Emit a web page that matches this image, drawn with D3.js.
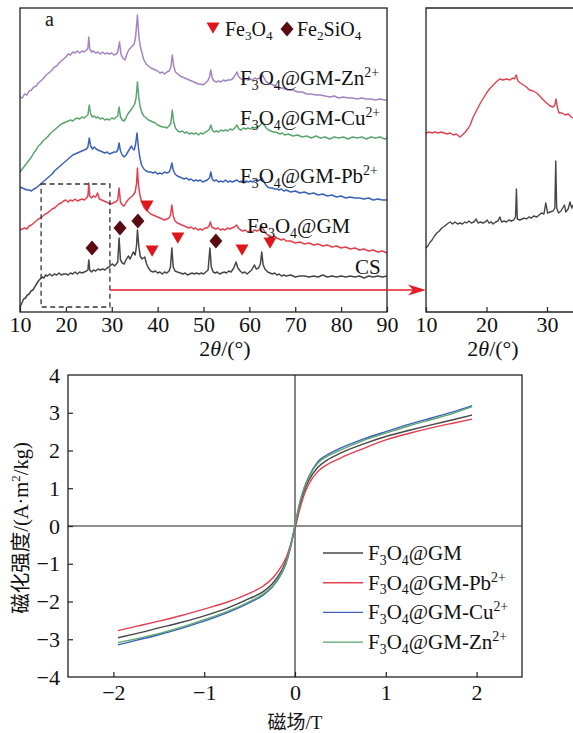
<!DOCTYPE html>
<html><head><meta charset="utf-8">
<script src="https://cdn.jsdelivr.net/npm/d3@7"></script>
<style>
body{margin:0;background:#fff}
svg{display:block}
text{font-family:"Liberation Serif","Times New Roman",serif;fill:#111}
</style>
</head><body>
<svg id="chart" width="573" height="733"></svg>
<script>
// ---------------- DATA ----------------
const xrdTicks = [10,20,30,40,50,60,70,80,90];
const insetTicks = [10,20,30];
// XRD traces: [2theta, intensity (a.u., stacked offsets)]
const xrdCS = [[10,5],[10.4,9],[10.8,13],[11.2,14],[11.6,17],[12,18],[12.4,21],[12.8,22],[13.2,25],[13.6,28],[14,31],[14.4,33],[14.8,35],[15.2,34],[15.6,37],[16,36],[16.5,38],[17,36],[17.5,38],[18,37],[18.5,39],[19,37],[19.5,38],[20,38],[20.5,37],[21,39],[21.5,38],[22,40],[22.5,38],[23,40],[23.5,39],[24,40],[24.5,41],[24.8,42],[25,52],[25.2,42],[25.6,40],[26,42],[26.5,41],[27,43],[27.5,42],[28,43],[28.5,42],[29,44],[29.4,45],[29.8,47],[30.2,48],[30.6,46],[31,48],[31.3,50],[31.6,74],[31.9,52],[32.3,49],[32.7,48],[33.1,52],[33.6,56],[34,53],[34.4,57],[34.7,60],[35.1,57],[35.4,66],[35.6,82],[35.9,66],[36.2,56],[36.6,53],[37.2,55],[37.6,48],[38,44],[38.5,41],[39,40],[39.5,41],[40,39],[40.5,40],[41,38],[41.5,40],[42,39],[42.5,41],[42.8,45],[43.1,64],[43.4,45],[43.8,41],[44.3,40],[45,39],[45.5,38],[46,39],[46.5,37],[47,38],[47.5,39],[48,38],[48.5,39],[49,38],[49.5,39],[50,38],[50.5,40],[51,42],[51.4,64],[51.7,45],[52.1,40],[52.6,39],[53,40],[53.5,38],[54,39],[54.5,40],[55,39],[55.5,41],[56,40],[56.6,44],[57.1,50],[57.5,44],[58,41],[58.5,39],[59,40],[59.5,38],[60,40],[60.5,42],[61.1,47],[61.5,43],[62,44],[62.4,48],[62.7,60],[63,47],[63.4,43],[64,40],[64.5,39],[65,38],[65.5,39],[66,37],[66.5,38],[67,36],[67.5,37],[68,36],[69,37],[70,35],[71,36],[72,36],[73,35],[74,36],[75,35],[76,37],[77,35],[78,36],[79,35],[80,36],[81,35],[82,36],[83,35],[84,36],[85,34],[86,36],[87,35],[88,36],[89,35],[90,36]];
const xrdGM = [[10,82],[10.5,83],[11,84],[11.5,83],[12,86],[12.5,87],[13,89],[13.5,91],[14,93],[14.5,94],[15,96],[15.5,98],[16,99],[16.5,101],[17,103],[17.5,104],[18,106],[18.5,108],[19,109],[19.5,111],[20,112],[20.5,110],[21,112],[21.5,111],[22,113],[22.5,111],[23,112],[23.5,113],[24,112],[24.5,114],[24.8,116],[25,129],[25.2,116],[25.6,114],[26,116],[26.5,115],[26.9,119],[27.3,113],[27.8,112],[28.3,111],[28.8,110],[29.3,109],[29.8,108],[30.3,109],[30.8,110],[31.3,112],[31.6,124],[31.9,110],[32.3,107],[32.7,106],[33.2,110],[33.7,113],[34.2,115],[34.7,117],[35.1,120],[35.4,128],[35.6,144],[35.8,128],[36.1,118],[36.5,110],[37,105],[37.5,102],[38,100],[38.5,98],[39,97],[39.5,96],[40,95],[40.5,94],[41,93],[41.5,92],[42,93],[42.5,94],[42.8,97],[43.1,107],[43.4,96],[43.8,91],[44.3,89],[44.8,88],[45.3,87],[45.8,86],[46.3,85],[46.8,84],[47.3,85],[47.8,83],[48.3,84],[48.8,82],[49.3,83],[49.8,82],[50.3,84],[50.8,84],[51.2,86],[51.5,90],[51.8,85],[52.2,84],[52.7,83],[53.2,84],[53.7,82],[54.2,83],[54.7,82],[55.2,84],[55.7,83],[56.2,84],[56.7,85],[57.2,87],[57.6,84],[58.1,82],[58.6,81],[59.1,82],[59.6,80],[60.1,81],[60.6,80],[61.1,82],[61.6,81],[62.1,82],[62.5,84],[62.7,86],[63,83],[63.5,79],[64,77],[64.5,76],[65,75],[65.5,76],[66,74],[66.5,73],[67,72],[67.5,73],[68,71],[69,71],[70,69],[71,70],[72,68],[73,69],[74,67],[75,68],[76,66],[77,67],[78,65],[79,66],[80,64],[81,65],[82,63],[83,64],[84,62],[85,63],[86,61],[87,62],[88,60],[89,61],[90,59]];
const xrdPb = [[10,125],[10.5,124],[11,123],[11.5,122],[12,122],[12.5,121],[13,123],[13.5,124],[14,126],[14.5,128],[15,130],[15.5,132],[16,134],[16.5,136],[17,138],[17.5,141],[18,143],[18.5,145],[19,147],[19.5,149],[20,151],[20.5,153],[21,155],[21.5,157],[22,158],[22.5,159],[23,160],[23.5,161],[24,162],[24.5,163],[24.8,165],[25.1,174],[25.4,166],[25.8,163],[26.2,165],[26.6,163],[27,162],[27.5,161],[28,160],[28.5,159],[29,160],[29.5,158],[30,159],[30.5,160],[31,160],[31.3,162],[31.6,169],[31.9,161],[32.3,157],[32.7,155],[33.1,157],[33.5,160],[33.9,163],[34.3,166],[34.6,163],[34.9,162],[35.2,168],[35.5,179],[35.8,165],[36.1,155],[36.5,147],[37,143],[37.5,141],[38,140],[38.5,140],[39,139],[39.5,140],[40,138],[40.5,139],[41,138],[41.5,140],[42,139],[42.5,140],[42.8,143],[43.1,149],[43.4,142],[43.8,138],[44.3,136],[44.8,135],[45.3,134],[45.8,133],[46.3,134],[46.8,132],[47.3,133],[47.8,131],[48.3,132],[48.8,131],[49.3,132],[49.8,130],[50.3,131],[50.8,132],[51.3,134],[51.6,140],[51.9,133],[52.3,131],[52.8,132],[53.3,130],[53.8,131],[54.3,130],[54.8,132],[55.3,130],[55.8,131],[56.3,130],[56.8,131],[57.3,132],[57.8,130],[58.3,131],[58.8,129],[59.3,131],[59.8,130],[60.3,131],[60.8,130],[61.3,132],[61.8,131],[62.3,132],[62.8,134],[63.2,130],[63.6,127],[64,125],[64.5,124],[65,124],[65.5,123],[66,123],[66.5,122],[67,123],[67.5,121],[68,122],[69,120],[70,121],[71,119],[72,120],[73,118],[74,119],[75,117],[76,118],[77,116],[78,117],[79,115],[80,116],[81,114],[82,115],[83,114],[84,114],[85,113],[86,114],[87,112],[88,113],[89,112],[90,112]];
const xrdCu = [[10,140],[10.5,143],[11,146],[11.5,149],[12,152],[12.5,155],[13,159],[13.5,162],[14,166],[14.5,168],[15,171],[15.5,173],[16,175],[16.5,178],[17,180],[17.5,182],[18,184],[18.5,186],[19,188],[19.5,189],[20,190],[20.5,191],[21,192],[21.5,191],[22,193],[22.5,194],[23,193],[23.5,195],[24,194],[24.5,196],[24.8,197],[25.1,207],[25.4,198],[25.8,195],[26.2,196],[26.6,194],[27,195],[27.5,193],[28,194],[28.5,192],[29,193],[29.5,192],[30,194],[30.5,193],[31,195],[31.3,196],[31.6,205],[31.9,195],[32.3,192],[32.7,191],[33.1,194],[33.5,198],[34,201],[34.5,204],[35,208],[35.3,214],[35.6,230],[35.9,214],[36.2,205],[36.6,199],[37,196],[37.5,194],[38,192],[38.5,191],[39,190],[39.5,189],[40,187],[40.5,186],[41,185],[41.5,185],[42,184],[42.5,186],[42.9,189],[43.2,202],[43.5,190],[43.9,184],[44.4,181],[44.9,180],[45.4,181],[45.9,179],[46.4,180],[46.9,178],[47.4,179],[47.9,178],[48.4,179],[48.9,177],[49.4,179],[49.9,178],[50.4,180],[50.9,181],[51.3,183],[51.6,187],[51.9,182],[52.3,180],[52.8,181],[53.3,180],[53.8,182],[54.3,181],[54.8,182],[55.3,181],[55.8,183],[56.3,182],[56.8,184],[57.3,187],[57.7,183],[58.2,182],[58.7,184],[59.2,183],[59.7,184],[60.2,183],[60.7,185],[61.2,184],[61.7,185],[62.2,186],[62.6,188],[62.9,190],[63.2,187],[63.7,184],[64.2,182],[64.7,181],[65.2,180],[65.7,180],[66.2,179],[66.7,178],[67.2,179],[67.7,177],[68.5,178],[69.5,176],[70.5,177],[71.5,175],[72.5,176],[73.5,174],[74.5,176],[75.5,174],[76.5,175],[77.5,173],[78.5,175],[79.5,174],[80.5,175],[81.5,173],[82.5,175],[83.5,174],[84.5,175],[85.5,173],[86.5,175],[87.5,174],[88.5,175],[89.5,173],[90,174]];
const xrdZn = [[10,215],[10.5,214],[11,218],[11.5,217],[12,221],[12.5,222],[13,225],[13.5,226],[14,229],[14.5,231],[15,233],[15.5,236],[16,238],[16.5,240],[17,242],[17.5,245],[18,246],[18.5,249],[19,251],[19.5,253],[20,255],[20.5,258],[21,257],[21.5,260],[22,259],[22.5,261],[23,259],[23.5,261],[24,260],[24.5,262],[24.8,264],[25,275],[25.2,263],[25.6,260],[26,261],[26.5,259],[27,260],[27.5,258],[28,260],[28.5,258],[29,259],[29.5,258],[30,259],[30.5,257],[31,258],[31.3,260],[31.7,270],[32,258],[32.4,254],[32.9,252],[33.3,258],[33.7,262],[34.1,264],[34.5,266],[34.9,268],[35.2,275],[35.6,297],[35.9,276],[36.2,266],[36.6,259],[37,252],[37.5,248],[38,246],[38.5,244],[39,243],[39.5,242],[40,241],[40.5,239],[41,240],[41.5,238],[42,240],[42.5,241],[42.9,245],[43.2,257],[43.5,246],[43.9,240],[44.4,238],[44.9,236],[45.4,235],[45.9,234],[46.4,233],[46.9,232],[47.4,231],[47.9,230],[48.4,229],[48.9,228],[49.4,228],[49.9,227],[50.4,229],[50.9,231],[51.3,235],[51.6,242],[51.9,234],[52.3,231],[52.8,230],[53.3,231],[53.8,230],[54.3,232],[54.8,231],[55.3,232],[55.8,232],[56.3,233],[56.8,236],[57.3,240],[57.7,235],[58.2,233],[58.7,232],[59.2,233],[59.7,232],[60.2,233],[60.7,232],[61.2,234],[61.7,233],[62.2,234],[62.6,235],[62.9,237],[63.2,234],[63.7,230],[64.2,229],[64.7,228],[65.2,227],[65.7,226],[66.2,225],[66.7,224],[67.2,224],[67.7,223],[68.5,222],[69.5,222],[70.5,220],[71.5,220],[72.5,218],[73.5,218],[74.5,217],[75.5,217],[76.5,216],[77.5,215],[78.5,216],[79.5,214],[80.5,215],[81.5,214],[82.5,214],[83.5,213],[84.5,214],[85.5,213],[86.5,213],[87.5,212],[88.5,213],[89.5,212],[90,212]];
// inset (10-34°) detail traces
const insetGM = [[10,179],[10.5,180],[11,179],[11.5,180],[12,179],[12.5,180],[13,179],[13.5,178],[14,179],[14.5,177],[15,178],[15.6,175],[16,177],[16.5,180],[17,184],[17.3,187],[17.8,195],[18.4,202],[19,209],[19.5,214],[20,219],[20.5,223],[21.1,227],[21.6,230],[22.2,233],[22.7,232],[23.3,233],[23.9,232],[24.3,234],[24.6,233],[24.9,237],[25.2,231],[25.6,229],[26.1,227],[26.6,225],[27.1,222],[27.7,221],[28.3,219],[28.8,216],[29.4,212],[29.95,209],[30.5,206],[31,205],[31.3,207],[31.5,213],[31.7,205],[32,199],[32.5,199],[33,197],[33.5,198],[34,195],[34.3,194]];
const insetCS = [[10,64],[10.3,66],[10.7,70],[11,72],[11.4,76],[11.8,79],[12.2,81],[12.6,84],[12.9,85],[13.3,87],[13.7,89],[14,90],[14.4,88],[14.8,90],[15.2,88],[15.6,89],[16,88],[16.4,90],[16.7,89],[17.1,91],[17.5,89],[17.9,90],[18.3,93],[18.6,89],[19,90],[19.4,89],[19.8,90],[20.1,92],[20.4,89],[20.8,90],[21.1,88],[21.5,90],[21.9,91],[22.2,95],[22.5,90],[22.9,91],[23.3,90],[23.7,92],[24.1,91],[24.5,92],[24.8,95],[24.95,123],[25.1,93],[25.5,92],[25.9,93],[26.3,94],[26.6,93],[27,95],[27.4,94],[27.8,96],[28.3,95],[28.7,97],[29.1,99],[29.5,98],[29.8,109],[30.1,99],[30.5,100],[31,101],[31.3,104],[31.45,151],[31.6,104],[31.9,99],[32.3,101],[32.6,104],[32.9,107],[33.1,100],[33.5,103],[33.8,110],[34.1,104],[34.3,107]];
// phase markers [2theta, intensity]
const markFe3O4 = [[37.7,106],[38.8,61],[44.4,74],[58.4,62],[64.5,69]];
const markFe2SiO4 = [[25.7,64],[31.8,84],[35.7,91],[52.7,71]];
// zoom box range
const boxRange = [14.6, 29.6, 5, 128];

// Magnetization
const fieldH = [-1.95,-1.75,-1.5,-1.25,-1,-0.75,-0.5,-0.35,-0.25,-0.15,-0.1,-0.05,0,0.05,0.1,0.15,0.25,0.35,0.5,0.75,1,1.25,1.5,1.75,1.95];
const magGM = [-2.96,-2.85,-2.70,-2.55,-2.38,-2.18,-1.92,-1.74,-1.53,-1.19,-0.93,-0.52,0,0.52,0.92,1.2,1.55,1.74,1.93,2.17,2.37,2.53,2.68,2.82,2.94];
const magPb = [-2.77,-2.66,-2.52,-2.37,-2.2,-2.02,-1.78,-1.59,-1.39,-1.07,-0.85,-0.5,-0.08,0.42,0.82,1.1,1.44,1.62,1.80,2.05,2.28,2.45,2.60,2.73,2.83];
const magCu = [-3.15,-3.03,-2.88,-2.71,-2.52,-2.30,-2.03,-1.83,-1.62,-1.27,-1.0,-0.58,0,0.58,1.0,1.3,1.70,1.88,2.06,2.30,2.50,2.69,2.86,3.03,3.19];
const magZn = [-3.09,-2.99,-2.85,-2.68,-2.48,-2.27,-2.0,-1.8,-1.6,-1.25,-0.98,-0.56,0.03,0.6,1.0,1.28,1.66,1.84,2.01,2.26,2.46,2.65,2.82,2.99,3.16];
const magTicksX = [-2,-1,0,1,2];
const magTicksY = [-4,-3,-2,-1,0,1,2,3,4];

// ---------------- DRAW ----------------
const C = {black:'#474747', red:'#e2404f', blue:'#3b62b8', green:'#5ba56f', purple:'#a484c3', tri:'#e0161c', dia:'#5a0a10', frame:'#222'};
const svg = d3.select('#chart');
const intFmt = d3.format('d');

function rich(g, x, y, parts, size, anchor){
  const t = g.append('text').attr('x',x).attr('y',y).attr('font-size',size).attr('text-anchor',anchor||'start');
  let shift = 0;
  parts.forEach(([s,k])=>{
    const target = k==='sub' ? size*0.22 : k==='sup' ? -size*0.38 : 0;
    const ts = t.append('tspan').attr('dy', target-shift).attr('font-size', (k==='sub'||k==='sup') ? size*0.66 : size).text(s);
    if (k==='it') ts.attr('font-style','italic');
    shift = target;
  });
  return t;
}

// ---- XRD main panel
const xT = d3.scaleLinear().domain([10,90]).range([20,387]);
const yT = d3.scaleLinear().domain([0,304]).range([312,8]);
const gT = svg.append('g');
const line = d3.line().x(d=>xT(d[0])).y(d=>yT(d[1]));
[[xrdCS,C.black],[xrdGM,C.red],[xrdPb,C.blue],[xrdCu,C.green],[xrdZn,C.purple]].forEach(([d,c])=>{
  gT.append('path').datum(d).attr('d',line).attr('fill','none').attr('stroke',c).attr('stroke-width',1.5).attr('stroke-linejoin','round');
});
// dashed zoom box
gT.append('rect').attr('x',xT(boxRange[0])).attr('y',yT(boxRange[3]))
  .attr('width',xT(boxRange[1])-xT(boxRange[0])).attr('height',yT(boxRange[2])-yT(boxRange[3]))
  .attr('fill','none').attr('stroke','#333').attr('stroke-width',1.3).attr('stroke-dasharray','5,3.5');
// markers
const triPath = s => `M${-s/2},${-s*0.42}L${s/2},${-s*0.42}L0,${s*0.45}Z`;
const diaPath = (w,h) => `M0,${-h/2}L${w/2},0L0,${h/2}L${-w/2},0Z`;
markFe3O4.forEach(d=>gT.append('path').attr('d',triPath(13)).attr('fill',C.tri).attr('transform',`translate(${xT(d[0])},${yT(d[1])})`));
markFe2SiO4.forEach(d=>gT.append('path').attr('d',diaPath(13,15)).attr('fill',C.dia).attr('transform',`translate(${xT(d[0])},${yT(d[1])})`));
// frame
gT.append('rect').attr('x',20).attr('y',8).attr('width',367).attr('height',304).attr('fill','none').attr('stroke',C.frame).attr('stroke-width',1.3);
const axT = gT.append('g').attr('transform','translate(0,312)').call(d3.axisBottom(xT).tickValues(xrdTicks).tickFormat(intFmt).tickSize(-5).tickPadding(4));
axT.select('.domain').remove();
axT.selectAll('line').attr('stroke',C.frame).attr('stroke-width',1.2);
axT.selectAll('text').attr('font-size',22).attr('font-family','"Liberation Serif",serif').attr('fill','#111');
rich(gT, 225, 356, [['2','n'],['θ','it'],['/(°)','n']], 22, 'middle');
// labels
gT.append('text').attr('x',45).attr('y',26).attr('font-size',20).text('a');
gT.append('path').attr('d',triPath(13)).attr('fill',C.tri).attr('transform','translate(213,28)');
rich(gT, 225, 36, [['Fe','n'],['3','sub'],['O','n'],['4','sub']], 20);
gT.append('path').attr('d',diaPath(13,15)).attr('fill',C.dia).attr('transform','translate(287,29)');
rich(gT, 297, 36, [['Fe','n'],['2','sub'],['SiO','n'],['4','sub']], 20);
rich(gT, 240, 85, [['F','n'],['3','sub'],['O','n'],['4','sub'],['@GM-Zn','n'],['2+','sup']], 21);
rich(gT, 240, 125, [['F','n'],['3','sub'],['O','n'],['4','sub'],['@GM-Cu','n'],['2+','sup']], 21);
rich(gT, 240, 183, [['F','n'],['3','sub'],['O','n'],['4','sub'],['@GM-Pb','n'],['2+','sup']], 21);
rich(gT, 247, 233, [['Fe','n'],['3','sub'],['O','n'],['4','sub'],['@GM','n']], 21);
gT.append('text').attr('x',355).attr('y',274).attr('font-size',21).text('CS');

// ---- Inset panel
const xI = d3.scaleLinear().domain([10,34.3]).range([426,573]);
const gI = svg.append('g');
const lineI = d3.line().x(d=>xI(d[0])).y(d=>yT(d[1]));
[[insetCS,C.black],[insetGM,C.red]].forEach(([d,c])=>{
  gI.append('path').datum(d).attr('d',lineI).attr('fill','none').attr('stroke',c).attr('stroke-width',1.4).attr('stroke-linejoin','round');
});
gI.append('path').attr('d','M573,8H426V312H573').attr('fill','none').attr('stroke',C.frame).attr('stroke-width',1.3);
const axI = gI.append('g').attr('transform','translate(0,312)').call(d3.axisBottom(xI).tickValues(insetTicks).tickFormat(intFmt).tickSize(-5).tickPadding(4));
axI.select('.domain').remove();
axI.selectAll('line').attr('stroke',C.frame).attr('stroke-width',1.2);
axI.selectAll('text').attr('font-size',22).attr('font-family','"Liberation Serif",serif').attr('fill','#111');
rich(gI, 493, 356, [['2','n'],['θ','it'],['/(°)','n']], 22, 'middle');

// arrow from zoom box to inset
const ay = yT(22);
svg.append('line').attr('x1',xT(boxRange[1])).attr('x2',xI(10)-6).attr('y1',ay).attr('y2',ay).attr('stroke','#e01f26').attr('stroke-width',1.5);
svg.append('path').attr('d',`M${xI(10)},${ay}L${xI(10)-18},${ay-5.5}L${xI(10)-13},${ay}L${xI(10)-18},${ay+5.5}Z`).attr('fill','#e01f26');

// ---- Magnetization panel
const xM = d3.scaleLinear().domain([-2.5,2.5]).range([68,522]);
const yM = d3.scaleLinear().domain([-4,4]).range([677,375]);
const gM = svg.append('g');
gM.append('line').attr('x1',xM(0)).attr('x2',xM(0)).attr('y1',375).attr('y2',677).attr('stroke','#222').attr('stroke-width',1.1);
gM.append('line').attr('x1',68).attr('x2',522).attr('y1',yM(0)).attr('y2',yM(0)).attr('stroke','#222').attr('stroke-width',1.1);
const magSeries = [
  {name:[['F','n'],['3','sub'],['O','n'],['4','sub'],['@GM','n']], v:magGM, c:C.black},
  {name:[['F','n'],['3','sub'],['O','n'],['4','sub'],['@GM-Pb','n'],['2+','sup']], v:magPb, c:C.red},
  {name:[['F','n'],['3','sub'],['O','n'],['4','sub'],['@GM-Cu','n'],['2+','sup']], v:magCu, c:C.blue},
  {name:[['F','n'],['3','sub'],['O','n'],['4','sub'],['@GM-Zn','n'],['2+','sup']], v:magZn, c:C.green}
];
const lineM = d3.line().x(d=>xM(d[0])).y(d=>yM(d[1])).curve(d3.curveMonotoneX);
magSeries.forEach(s=>{
  gM.append('path').datum(fieldH.map((h,i)=>[h,s.v[i]])).attr('d',lineM).attr('fill','none').attr('stroke',s.c).attr('stroke-width',1.4);
});
gM.append('rect').attr('x',68).attr('y',375).attr('width',454).attr('height',302).attr('fill','none').attr('stroke',C.frame).attr('stroke-width',1.3);
const axMX = gM.append('g').attr('transform','translate(0,677)').call(d3.axisBottom(xM).tickValues(magTicksX).tickFormat(intFmt).tickSize(-5).tickPadding(7));
axMX.select('.domain').remove();
const axMY = gM.append('g').attr('transform','translate(68,0)').call(d3.axisLeft(yM).tickValues(magTicksY).tickFormat(intFmt).tickSize(-5).tickPadding(8));
axMY.select('.domain').remove();
[axMX,axMY].forEach(a=>{
  a.selectAll('line').attr('stroke',C.frame).attr('stroke-width',1.2);
  a.selectAll('text').attr('font-size',22).attr('font-family','"Liberation Serif",serif').attr('fill','#111');
});
axMY.selectAll('line').filter(d=>d===4||d===-4).remove();
// axis titles
gM.append('text').attr('x',295).attr('y',729).attr('text-anchor','middle').attr('font-size',19)
  .call(t=>{t.append('tspan').attr('font-family','"Noto Sans CJK SC",sans-serif').text('磁场'); t.append('tspan').text('/T');});
const yt = gM.append('text').attr('transform','translate(28,528) rotate(-90)').attr('text-anchor','middle').attr('font-size',20.5);
yt.append('tspan').attr('font-family','"Noto Sans CJK SC",sans-serif').text('磁化强度');
yt.append('tspan').text('/(A·m');
yt.append('tspan').attr('font-size',13).attr('dy',-8).text('2');
yt.append('tspan').attr('dy',8).text('/kg)');
// legend
magSeries.forEach((s,i)=>{
  const y = 553 + i*29.7;
  gM.append('line').attr('x1',323).attr('x2',363).attr('y1',y).attr('y2',y).attr('stroke',s.c).attr('stroke-width',1.4);
  rich(gM, 368, y+7, s.name, 21);
});
</script>
</body></html>
